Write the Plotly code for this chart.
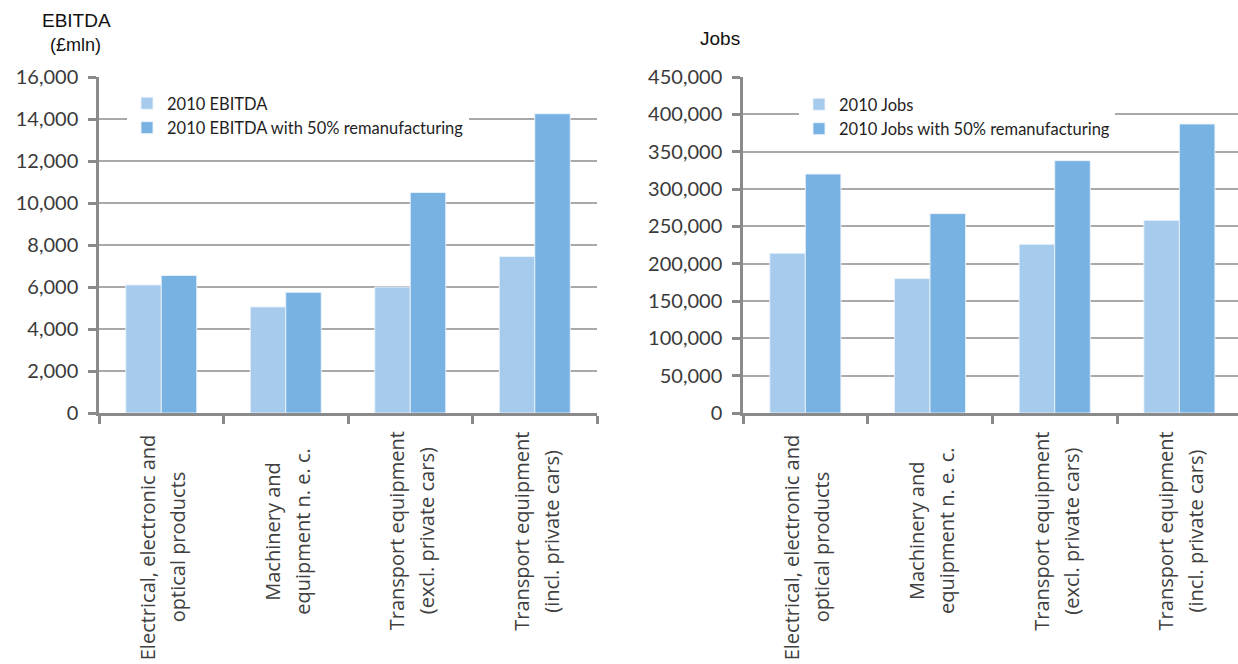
import plotly.graph_objects as go

# Sector categories, each label split over two lines
categories = [
    "Electrical, electronic and optical products",
    "Machinery and equipment n. e. c.",
    "Transport equipment (excl. private cars)",
    "Transport equipment (incl. private cars)",
]
category_lines = [
    ["Electrical, electronic and", "optical products"],
    ["Machinery and", "equipment n. e. c."],
    ["Transport equipment", "(excl. private cars)"],
    ["Transport equipment", "(incl. private cars)"],
]

# EBITDA (£mln)
ebitda_2010 = [6100, 5050, 6000, 7450]
ebitda_reman = [6550, 5750, 10500, 14250]

# Jobs
jobs_2010 = [214000, 180000, 226000, 258000]
jobs_reman = [320000, 267000, 338000, 387000]

W, H = 1238, 664
LIGHT = "#A7CBEC"
DARK = "#77B2E3"
AXIS = "#8A8A8A"
GRID = "#A9A9A9"
TICKFONT = dict(family="Lato, Open Sans, sans-serif", size=20, color="#3A3A3A")
LEGFONT = dict(family="Lato, Open Sans, sans-serif", size=16.5, color="#1F1F1F")
CATFONT = dict(family="Open Sans, Lato, sans-serif", size=20, color="#404040")
TITLEFONT = dict(family="Liberation Sans Narrow, Arial Narrow, Liberation Sans, sans-serif",
                 size=19, color="#111111")


def px_x(px):
    return px / W


def px_y(px):
    return 1 - px / H


fig = go.Figure()

bar_line = dict(color="rgba(235,243,251,0.9)", width=1)

fig.add_trace(go.Bar(x=categories, y=ebitda_2010, name="2010 EBITDA",
                     marker=dict(color=LIGHT, line=bar_line),
                     xaxis="x", yaxis="y", legend="legend"))
fig.add_trace(go.Bar(x=categories, y=ebitda_reman, name="2010 EBITDA with 50% remanufacturing",
                     marker=dict(color=DARK, line=bar_line),
                     xaxis="x", yaxis="y", legend="legend"))
fig.add_trace(go.Bar(x=categories, y=jobs_2010, name="2010 Jobs",
                     marker=dict(color=LIGHT, line=bar_line),
                     xaxis="x2", yaxis="y2", legend="legend2"))
fig.add_trace(go.Bar(x=categories, y=jobs_reman, name="2010 Jobs with 50% remanufacturing",
                     marker=dict(color=DARK, line=bar_line),
                     xaxis="x2", yaxis="y2", legend="legend2"))

ydom = [px_y(413), px_y(77)]

xcommon = dict(
    type="category", showline=True, linecolor=AXIS, linewidth=2.5,
    ticks="outside", tickson="boundaries", ticklen=8, tickwidth=2.5, tickcolor=AXIS,
    showticklabels=False, showgrid=False, zeroline=False, fixedrange=True,
    automargin=False,
)
ycommon = dict(
    showline=True, linecolor=AXIS, linewidth=2.5,
    ticks="outside", ticklen=8, tickwidth=2.5, tickcolor=AXIS,
    showgrid=True, gridcolor=GRID, gridwidth=2, zeroline=False,
    tickformat=",", tickfont=TICKFONT, ticklabelstandoff=6, fixedrange=True,
    automargin=False,
)

fig.update_layout(
    width=W, height=H,
    margin=dict(l=0, r=0, t=0, b=0, autoexpand=False),
    paper_bgcolor="white", plot_bgcolor="white",
    barmode="group", bargap=0.43, bargroupgap=0,
    xaxis=dict(domain=[px_x(99), px_x(597)], anchor="y", range=[-0.5, 3.5], **xcommon),
    yaxis=dict(domain=ydom, anchor="x", range=[0, 16000], dtick=2000, **ycommon),
    xaxis2=dict(domain=[px_x(743), 1.0], anchor="y2", range=[-0.5, 3.47], **xcommon),
    yaxis2=dict(domain=ydom, anchor="x2", range=[0, 450000], dtick=50000, **ycommon),
    legend=dict(x=px_x(127), y=px_y(86), xanchor="left", yanchor="top",
                bgcolor="white", borderwidth=0, font=LEGFONT, itemwidth=30,
                tracegroupgap=0, traceorder="normal"),
    legend2=dict(x=px_x(799), y=px_y(87), xanchor="left", yanchor="top",
                 bgcolor="white", borderwidth=0, font=LEGFONT, itemwidth=30,
                 tracegroupgap=0, traceorder="normal"),
    showlegend=True,
)

annotations = [
    dict(text="EBITDA", x=px_x(76), y=px_y(21), xref="paper", yref="paper",
         showarrow=False, font=TITLEFONT, xanchor="center", yanchor="middle"),
    dict(text="(£mln)", x=px_x(75), y=px_y(45), xref="paper", yref="paper",
         showarrow=False, font=dict(TITLEFONT, size=18), xanchor="center", yanchor="middle"),
    dict(text="Jobs", x=px_x(720), y=px_y(38), xref="paper", yref="paper",
         showarrow=False, font=TITLEFONT, xanchor="center", yanchor="middle"),
]

# Rotated two-line category labels under each axis, lines centred on each other
label_top = 430
for xref in ("x", "x2"):
    for cat, lines in zip(categories, category_lines):
        half = max(len(s) for s in lines) * 4.5
        centre = max(531, label_top + half)
        for k, line in enumerate(lines):
            annotations.append(dict(
                text=line, x=cat, xref=xref, y=px_y(centre), yref="paper",
                textangle=-90, showarrow=False, font=CATFONT,
                xanchor="center", yanchor="middle", xshift=-14 + 30 * k,
            ))

fig.update_layout(annotations=annotations)

fig.write_html("out.html")
